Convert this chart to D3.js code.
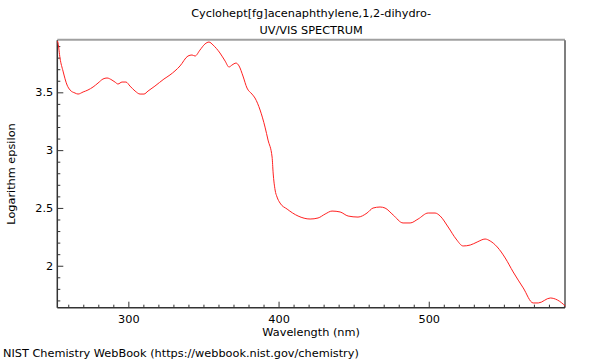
<!DOCTYPE html>
<html><head><meta charset="utf-8">
<script src="https://cdn.jsdelivr.net/npm/d3@7"></script>
<style>body{margin:0;background:#fff}svg{display:block;font-family:"DejaVu Sans",sans-serif}</style>
</head><body>
<script>
const title1 = "Cyclohept[fg]acenaphthylene,1,2-dihydro-";
const title2 = "UV/VIS SPECTRUM";
const xLabel = "Wavelength (nm)";
const yLabel = "Logarithm epsilon";
const footer = "NIST Chemistry WebBook (https://webbook.nist.gov/chemistry)";
const xTicks = [300, 400, 500];
const yTicks = [2, 2.5, 3, 3.5];
const wavelength = [252.8,253.2,254.5,256.5,259.2,261.2,264.5,266.5,269.9,273.1,276.5,279.8,283.1,285.8,289.1,291.1,293.1,295.8,298.4,301.1,304.5,307.8,310.4,313.1,317.7,323.7,327.7,334.4,339.7,342.4,344.4,347.7,351.0,353.7,356.4,361.0,364.4,367.0,369.0,371.7,373.7,376.3,379.0,382.3,384.3,387.7,391.0,393.0,395.7,396.4,397.7,399.0,401.0,405.7,413.0,421.0,426.3,431.0,435.6,441.0,446.3,452.9,458.9,462.9,467.6,470.9,476.3,482.9,487.6,492.9,499.6,504.2,507.6,512.9,518.2,522.9,527.6,532.2,537.5,540.9,545.6,550.9,556.2,562.9,569.5,572.9,580.9,585.6,590.9];
const logEps = [3.944,3.926,3.796,3.684,3.563,3.520,3.494,3.485,3.503,3.520,3.546,3.580,3.615,3.624,3.606,3.589,3.572,3.589,3.589,3.554,3.511,3.485,3.485,3.511,3.554,3.615,3.650,3.728,3.814,3.823,3.814,3.866,3.918,3.935,3.909,3.840,3.771,3.719,3.736,3.753,3.728,3.641,3.537,3.485,3.451,3.347,3.199,3.087,2.940,2.802,2.655,2.594,2.542,2.490,2.430,2.404,2.413,2.447,2.473,2.465,2.430,2.421,2.456,2.499,2.508,2.499,2.439,2.370,2.370,2.404,2.456,2.456,2.430,2.335,2.231,2.171,2.179,2.205,2.231,2.214,2.162,2.067,1.946,1.808,1.678,1.678,1.721,1.704,1.652];

const W = 600, H = 360, FS = 11.3;
const L = 57.3, R = 565, T = 40.3, B = 307.7;
const svg = d3.select("body").append("svg").attr("width", W).attr("height", H);
const x = d3.scaleLinear().domain([252.7, 590.7]).range([L, R]);
const y = d3.scaleLinear().domain([1.637, 3.95]).range([B, T]);

const xMinor = d3.range(260, 591, 10).filter(v => !xTicks.includes(v));
const yMinor = d3.range(17, 40, 1).map(v => v / 10).filter(v => !yTicks.includes(v));

const xAx = svg.append("g").attr("transform", `translate(0,${B})`);
xAx.call(d3.axisBottom(x).tickValues(xMinor).tickSize(-3).tickFormat(""));
xAx.append("g").call(d3.axisBottom(x).tickValues(xTicks).tickSize(-6).tickPadding(7).tickFormat(d3.format("d")));
xAx.selectAll(".domain").remove();
xAx.selectAll("line").attr("stroke", "#333");
xAx.selectAll("text").attr("font-size", FS).attr("fill", "#000").attr("font-family", "DejaVu Sans");

const yAx = svg.append("g").attr("transform", `translate(${L},0)`);
yAx.call(d3.axisLeft(y).tickValues(yMinor).tickSize(-3).tickFormat(""));
yAx.append("g").call(d3.axisLeft(y).tickValues(yTicks).tickSize(-6).tickPadding(4).tickFormat(d => d === 2 || d === 3 ? d3.format("d")(d) : d3.format(".1f")(d)));
yAx.selectAll(".domain").remove();
yAx.selectAll("line").attr("stroke", "#333");
yAx.selectAll("text").attr("font-size", FS).attr("fill", "#000").attr("font-family", "DejaVu Sans");

svg.append("line").attr("x1", L).attr("x2", R).attr("y1", T - 0.5).attr("y2", T - 0.5).attr("stroke", "#a0a0a0").attr("stroke-width", 2);
svg.append("line").attr("x1", R).attr("x2", R).attr("y1", T).attr("y2", B).attr("stroke", "#555").attr("stroke-width", 1.5);
svg.append("line").attr("x1", L).attr("x2", L).attr("y1", T).attr("y2", B).attr("stroke", "#333").attr("stroke-width", 1.5);
svg.append("line").attr("x1", L).attr("x2", R).attr("y1", B).attr("y2", B).attr("stroke", "#333").attr("stroke-width", 1.5);

const data = wavelength.map((w, i) => ({w, v: logEps[i]}));
svg.append("path").datum(data)
  .attr("fill", "none").attr("stroke", "#ff2020").attr("stroke-width", 1)
  .attr("d", d3.line().x(d => x(d.w)).y(d => y(d.v)).curve(d3.curveMonotoneX));

const cx = (L + R) / 2;
svg.append("text").attr("x", cx).attr("y", 17).attr("text-anchor", "middle").attr("font-size", FS).text(title1);
svg.append("text").attr("x", cx).attr("y", 34).attr("text-anchor", "middle").attr("font-size", FS).text(title2);
svg.append("text").attr("x", cx).attr("y", 336).attr("text-anchor", "middle").attr("font-size", FS).text(xLabel);
svg.append("text").attr("transform", `translate(14.5,${(T + B) / 2}) rotate(-90)`).attr("text-anchor", "middle").attr("font-size", FS).text(yLabel);
svg.append("text").attr("x", 3).attr("y", 357).attr("font-size", FS).text(footer);
</script>
</body></html>
